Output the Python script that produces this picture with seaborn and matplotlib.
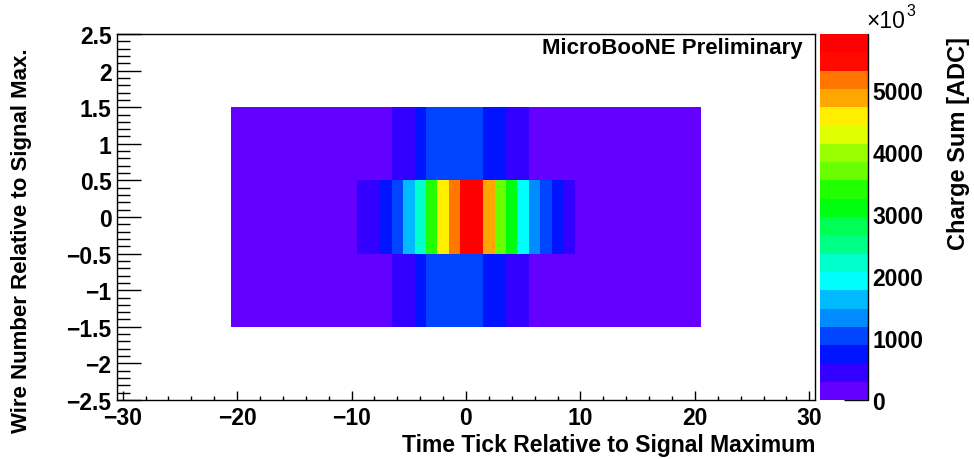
import colorsys
import numpy as np
import pandas as pd
import matplotlib
matplotlib.use("Agg")
import matplotlib.pyplot as plt
import seaborn as sns
from matplotlib.colors import ListedColormap, BoundaryNorm
from matplotlib.ticker import FixedLocator

# ---------------- data ----------------
time_ticks = list(range(-30, 31))          # histogram x bins (bin centres)
wire_numbers = [2, 1, 0, -1, -2]           # histogram y bins (top to bottom)
filled_ticks = list(range(-20, 21))        # time bins that carry charge

# charge sum (x10^3 ADC) for wire 0, time ticks -20 .. 20
center_row = [150, 150, 150, 150, 150, 150, 150, 150, 150, 150, 150,
              450, 500, 750, 1050, 1600, 2200, 3400, 4550, 5150,
              5890,
              5650, 4850, 3700, 3100, 1900, 1300, 1000, 700, 450,
              150, 150, 150, 150, 150, 150, 150, 150, 150, 150, 150]
# charge sum for wires -1 and +1, time ticks -20 .. 20
side_row = [150, 150, 150, 150, 150, 150, 150, 150, 150, 150,
            150, 150, 150, 150, 400, 400, 700, 1000, 1000, 1000,
            1000,
            1000, 700, 700, 400, 400, 150, 150, 150, 150,
            150, 150, 150, 150, 150, 150, 150, 150, 150, 150, 150]
side_wires = [1, -1]
center_wire = 0

z_max = 5900
n_levels = 20
x_major_ticks = [-30, -20, -10, 0, 10, 20, 30]
y_major_ticks = [-2.5, -2, -1.5, -1, -0.5, 0, 0.5, 1, 1.5, 2, 2.5]
cbar_ticks = [0, 1000, 2000, 3000, 4000, 5000]

# ---------------- table ----------------
grid = pd.DataFrame(np.nan, index=wire_numbers, columns=time_ticks)
grid.loc[center_wire, filled_ticks] = center_row
for w in side_wires:
    grid.loc[w, filled_ticks] = side_row

# ROOT "pretty" palette (violet -> red), 20 contours
def root_palette_color(k):
    idx = int((k + 0.99) * 50 / n_levels)
    hue = max(280 - (idx + 1) * (280 / 50), 0)
    if k == n_levels - 2:
        hue = 2
    return colorsys.hls_to_rgb(hue / 360.0, 0.5, 1.0)

cmap = ListedColormap([root_palette_color(k) for k in range(n_levels)])
levels = np.linspace(0, z_max, n_levels + 1)
norm = BoundaryNorm(levels, cmap.N)

# ---------------- figure ----------------
sns.set_style("white")
plt.rcParams["font.family"] = ["Liberation Sans", "DejaVu Sans"]
plt.rcParams["axes.unicode_minus"] = True
plt.rcParams["text.color"] = "black"
plt.rcParams["xtick.color"] = "black"
plt.rcParams["ytick.color"] = "black"
plt.rcParams["axes.labelcolor"] = "black"

W, H = 974, 460
fig = plt.figure(figsize=(W / 100, H / 100), dpi=100)
ax = fig.add_axes([117 / W, 1 - 401 / H, (815 - 117) / W, (401 - 35) / H])
cax = fig.add_axes([820 / W, 1 - 401 / H, (868 - 820) / W, (401 - 35) / H])

sns.heatmap(grid, ax=ax, cmap=cmap, norm=norm, cbar=True, cbar_ax=cax,
            xticklabels=False, yticklabels=False)

def xpos(v):
    return (v - time_ticks[0]) + 0.5

def ypos(v):
    return (wire_numbers[0] - v) + 0.5

def fmt(v):
    return f"{v:g}".replace("-", "\u2212")

ax.set_xlim(xpos(time_ticks[0]) - 0.5, xpos(time_ticks[-1]) + 0.5)
ax.set_ylim(ypos(y_major_ticks[0]), ypos(y_major_ticks[-1]))

ax.xaxis.set_major_locator(FixedLocator([xpos(v) for v in x_major_ticks]))
ax.set_xticklabels([fmt(v) for v in x_major_ticks])
x_minor = np.arange(x_major_ticks[0], x_major_ticks[-1] + 0.01, 2)
ax.xaxis.set_minor_locator(FixedLocator([xpos(v) for v in x_minor]))

ax.yaxis.set_major_locator(FixedLocator([ypos(v) for v in y_major_ticks]))
ax.set_yticklabels([fmt(v) for v in y_major_ticks])
y_minor = np.round(np.arange(y_major_ticks[0], y_major_ticks[-1] + 0.001, 0.1), 2)
ax.yaxis.set_minor_locator(FixedLocator([ypos(v) for v in y_minor]))

for s in ax.spines.values():
    s.set_visible(True)
    s.set_color("black")
    s.set_linewidth(1.0)

ax.tick_params(axis="x", which="major", direction="in", length=6.5, width=1,
               color="black", labelcolor="black", bottom=True, top=False, pad=4)
ax.tick_params(axis="x", which="minor", direction="in", length=3.2, width=1,
               color="black", bottom=True, top=False)
ax.tick_params(axis="y", which="major", direction="in", length=17, width=1,
               color="black", labelcolor="black", left=True, right=False, pad=4)
ax.tick_params(axis="y", which="minor", direction="in", length=9, width=1,
               color="black", left=True, right=False)
ax.tick_params(axis="y", labelrotation=0)
ax.tick_params(axis="x", labelrotation=0)
for lab in ax.get_xticklabels() + ax.get_yticklabels():
    lab.set_fontsize(16.5)
    lab.set_fontweight("bold")
    lab.set_color("black")
ax.set_xlabel("")
ax.set_ylabel("")

# colour bar
cbar = ax.collections[0].colorbar
cbar.set_ticks(cbar_ticks)
cbar.set_ticklabels([str(v) for v in cbar_ticks])
cbar.outline.set_visible(False)
cax.tick_params(direction="in", length=17.5, width=1, color="black",
                labelcolor="black", right=True, left=False, pad=3)
for lab in cax.get_yticklabels():
    lab.set_fontsize(16.5)
    lab.set_fontweight("bold")
    lab.set_color("black")
cax.minorticks_off()
cax.plot([1, 1], [0, 1], transform=cax.transAxes, color="black", lw=1,
         clip_on=False)

# texts
fig.text(815 / W, 1 - 446 / H, "Time Tick Relative to Signal Maximum",
         ha="right", va="center", fontsize=16.5, fontweight="bold")
fig.text(22 / W, 1 - 48 / H, "Wire Number Relative to Signal Max.",
         ha="center", va="top", rotation=90, fontsize=16, fontweight="bold")
fig.text(958 / W, 1 - 37 / H, "Charge Sum [ADC]",
         ha="center", va="top", rotation=90, fontsize=17, fontweight="bold")
fig.text(866 / W, 1 - 22 / H, "\u00d710", ha="left", va="center",
         fontsize=16.5)
fig.text(906 / W, 1 - 11 / H, "3", ha="left", va="center", fontsize=11.5)
fig.text(803 / W, 1 - 49 / H, "MicroBooNE Preliminary", ha="right",
         va="center", fontsize=16, fontweight="bold")

fig.savefig("out.png", dpi=100)
